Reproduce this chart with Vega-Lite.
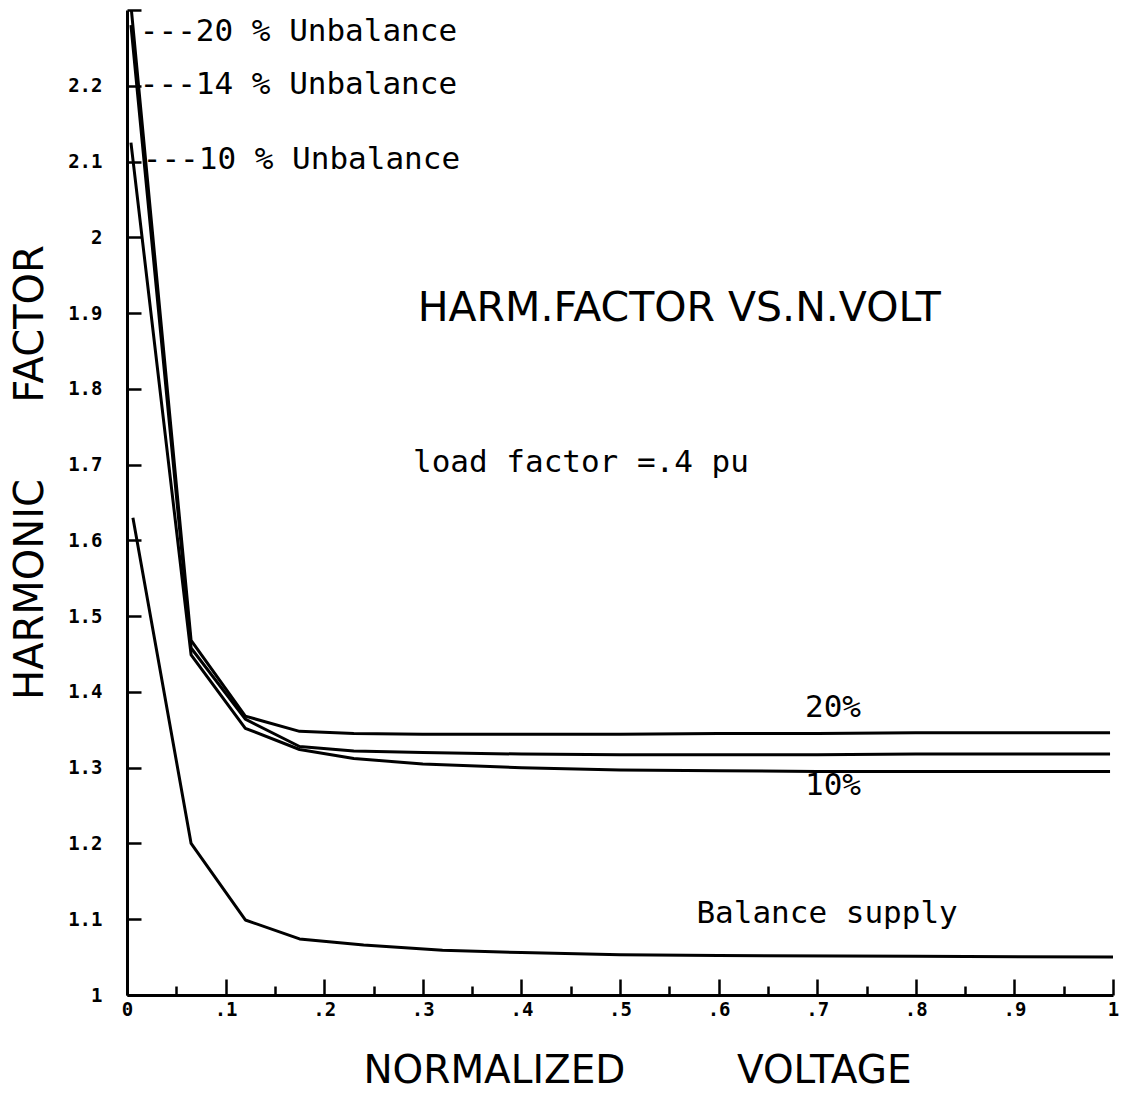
{
  "$schema": "https://vega.github.io/schema/vega-lite/v6.json",
  "autosize": {"type": "none"},
  "padding": {"left": 127, "top": 10, "right": 13, "bottom": 104},
  "width": 986,
  "height": 985,
  "background": "white",
  "config": {"view": {"stroke": null}},
  "datasets": {
    "curves": [
      {"series": "20%", "v": 0.003, "h": 2.32},
      {"series": "20%", "v": 0.065, "h": 1.468},
      {"series": "20%", "v": 0.12, "h": 1.368},
      {"series": "20%", "v": 0.175, "h": 1.348},
      {"series": "20%", "v": 0.23, "h": 1.345},
      {"series": "20%", "v": 0.3, "h": 1.344},
      {"series": "20%", "v": 0.4, "h": 1.344},
      {"series": "20%", "v": 0.5, "h": 1.344},
      {"series": "20%", "v": 0.6, "h": 1.345},
      {"series": "20%", "v": 0.7, "h": 1.345},
      {"series": "20%", "v": 0.8, "h": 1.346},
      {"series": "20%", "v": 0.9, "h": 1.346},
      {"series": "20%", "v": 0.997, "h": 1.346},
      {"series": "14%", "v": 0.004, "h": 2.28},
      {"series": "14%", "v": 0.065, "h": 1.458},
      {"series": "14%", "v": 0.12, "h": 1.364},
      {"series": "14%", "v": 0.175, "h": 1.328},
      {"series": "14%", "v": 0.23, "h": 1.322},
      {"series": "14%", "v": 0.3, "h": 1.32},
      {"series": "14%", "v": 0.4, "h": 1.318},
      {"series": "14%", "v": 0.5, "h": 1.317},
      {"series": "14%", "v": 0.6, "h": 1.317},
      {"series": "14%", "v": 0.7, "h": 1.317},
      {"series": "14%", "v": 0.8, "h": 1.318},
      {"series": "14%", "v": 0.9, "h": 1.318},
      {"series": "14%", "v": 0.997, "h": 1.318},
      {"series": "10%", "v": 0.004, "h": 2.125},
      {"series": "10%", "v": 0.065, "h": 1.449},
      {"series": "10%", "v": 0.12, "h": 1.352},
      {"series": "10%", "v": 0.175, "h": 1.324},
      {"series": "10%", "v": 0.23, "h": 1.312},
      {"series": "10%", "v": 0.3, "h": 1.305},
      {"series": "10%", "v": 0.4, "h": 1.3},
      {"series": "10%", "v": 0.5, "h": 1.297},
      {"series": "10%", "v": 0.6, "h": 1.296},
      {"series": "10%", "v": 0.7, "h": 1.295},
      {"series": "10%", "v": 0.8, "h": 1.295},
      {"series": "10%", "v": 0.9, "h": 1.295},
      {"series": "10%", "v": 0.997, "h": 1.295},
      {"series": "Balance", "v": 0.006, "h": 1.63},
      {"series": "Balance", "v": 0.065, "h": 1.2},
      {"series": "Balance", "v": 0.12, "h": 1.099},
      {"series": "Balance", "v": 0.175, "h": 1.074},
      {"series": "Balance", "v": 0.24, "h": 1.066},
      {"series": "Balance", "v": 0.32, "h": 1.059},
      {"series": "Balance", "v": 0.4, "h": 1.056},
      {"series": "Balance", "v": 0.5, "h": 1.053},
      {"series": "Balance", "v": 0.6, "h": 1.052},
      {"series": "Balance", "v": 0.8, "h": 1.051},
      {"series": "Balance", "v": 1.0, "h": 1.05}
    ],
    "leftNotes": [
      {"v": 0.013, "h": 2.271, "label": "---20 % Unbalance"},
      {"v": 0.013, "h": 2.201, "label": "---14 % Unbalance"},
      {"v": 0.016, "h": 2.102, "label": "---10 % Unbalance"}
    ],
    "centerNotes": [
      {"v": 0.4604, "h": 1.702, "label": "load factor =.4 pu"},
      {"v": 0.716, "h": 1.379, "label": "20%"},
      {"v": 0.716, "h": 1.276, "label": "10%"},
      {"v": 0.71, "h": 1.107, "label": "Balance supply"}
    ],
    "title": [
      {"v": 0.56, "h": 1.906, "label": "HARM.FACTOR VS.N.VOLT"}
    ]
  },
  "layer": [
    {
      "data": {"name": "curves"},
      "mark": {"type": "line", "stroke": "black", "strokeWidth": 3, "clip": true, "strokeJoin": "round"},
      "encoding": {
        "x": {
          "field": "v", "type": "quantitative",
          "scale": {"domain": [0, 1], "nice": false, "zero": false},
          "axis": {
            "title": "NORMALIZED\u00a0\u00a0\u00a0\u00a0\u00a0\u00a0\u00a0\u00a0\u00a0VOLTAGE",
            "titleFont": "DejaVu Sans", "titleFontSize": 39, "titleFontWeight": "normal", "titleColor": "black",
            "titleX": 510, "titleY": 75, "titleBaseline": "middle", "titleAlign": "center", "titleAnchor": null,
            "values": [0, 0.05, 0.1, 0.15, 0.2, 0.25, 0.3, 0.35, 0.4, 0.45, 0.5, 0.55, 0.6, 0.65, 0.7, 0.75, 0.8, 0.85, 0.9, 0.95, 1],
            "tickSize": {"condition": {"test": "abs(datum.value*10 - round(datum.value*10)) < 0.001", "value": -16}, "value": -9},
            "tickColor": "black", "tickWidth": 2.5,
            "domainColor": "black", "domainWidth": 3,
            "grid": false,
            "labelFlush": false,
            "labelExpr": "abs(datum.value*10 - round(datum.value*10)) > 0.001 ? '' : (datum.value == 0 ? '0' : datum.value == 1 ? '1' : replace(format(datum.value, '.1f'), '0.', '.'))",
            "labelFont": "DejaVu Sans Mono", "labelFontWeight": "bold", "labelFontSize": 19, "labelColor": "black",
            "labelPadding": 21, "labelBaseline": "top"
          }
        },
        "y": {
          "field": "h", "type": "quantitative",
          "scale": {"domain": [1, 2.3], "nice": false, "zero": false},
          "axis": {
            "title": "HARMONIC\u00a0\u00a0\u00a0\u00a0\u00a0\u00a0FACTOR",
            "titleFont": "DejaVu Sans", "titleFontSize": 40, "titleFontWeight": "normal", "titleColor": "black",
            "titleX": -97, "titleY": 462, "titleAngle": 270, "titleBaseline": "middle", "titleAlign": "center", "titleAnchor": null,
            "values": [1, 1.05, 1.1, 1.15, 1.2, 1.25, 1.3, 1.35, 1.4, 1.45, 1.5, 1.55, 1.6, 1.65, 1.7, 1.75, 1.8, 1.85, 1.9, 1.95, 2, 2.05, 2.1, 2.15, 2.2, 2.25, 2.3],
            "tickSize": {"condition": {"test": "abs(datum.value*10 - round(datum.value*10)) < 0.001", "value": -14}, "value": -9},
            "tickColor": "black", "tickWidth": 2.5,
            "domainColor": "black", "domainWidth": 3,
            "grid": false,
            "labelExpr": "(datum.value > 2.25 || abs(datum.value*10 - round(datum.value*10)) > 0.001) ? '' : format(datum.value, '~g')",
            "labelFont": "DejaVu Sans Mono", "labelFontWeight": "bold", "labelFontSize": 19, "labelColor": "black",
            "labelPadding": 39
          }
        },
        "detail": {"field": "series", "type": "nominal"}
      }
    },
    {
      "data": {"name": "leftNotes"},
      "mark": {"type": "text", "align": "left", "baseline": "middle", "font": "DejaVu Sans Mono", "fontSize": 31, "color": "black"},
      "encoding": {
        "x": {"field": "v", "type": "quantitative"},
        "y": {"field": "h", "type": "quantitative"},
        "text": {"field": "label"}
      }
    },
    {
      "data": {"name": "centerNotes"},
      "mark": {"type": "text", "align": "center", "baseline": "middle", "font": "DejaVu Sans Mono", "fontSize": 31, "color": "black"},
      "encoding": {
        "x": {"field": "v", "type": "quantitative"},
        "y": {"field": "h", "type": "quantitative"},
        "text": {"field": "label"}
      }
    },
    {
      "data": {"name": "title"},
      "mark": {"type": "text", "align": "center", "baseline": "middle", "font": "DejaVu Sans", "fontSize": 41, "color": "black"},
      "encoding": {
        "x": {"field": "v", "type": "quantitative"},
        "y": {"field": "h", "type": "quantitative"},
        "text": {"field": "label"}
      }
    }
  ]
}
